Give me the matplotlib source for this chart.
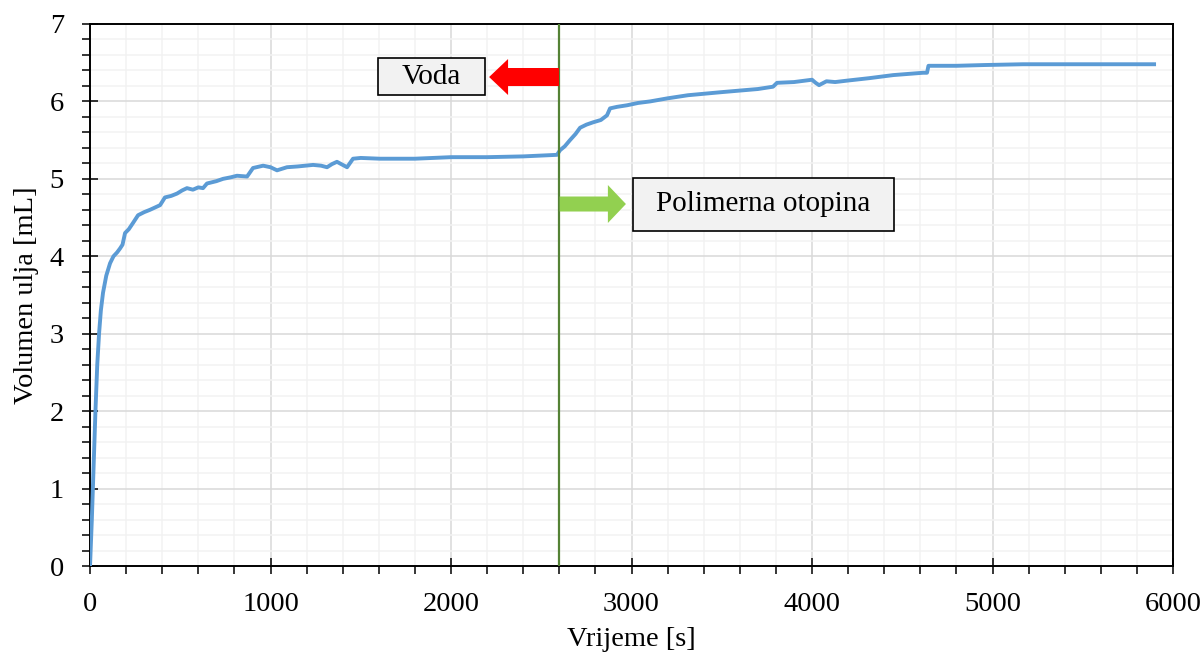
import matplotlib
matplotlib.use('Agg')
import matplotlib.pyplot as plt
from matplotlib.patches import Rectangle, FancyArrow
from matplotlib.ticker import MultipleLocator

plt.rcParams['font.family'] = ['Liberation Serif', 'DejaVu Serif']

# ocitano s grafa
vrijeme = [0, 10, 20, 30, 40, 50, 60, 72, 90, 111, 130, 150, 166, 180, 194, 215, 238, 266,
           300, 332, 360, 388, 415, 450, 482, 510, 537, 570, 600, 626, 648, 700, 737, 780,
           814, 870, 903, 959, 1000, 1036, 1091, 1150, 1236, 1280, 1313, 1340, 1368, 1400,
           1424, 1457, 1500, 1607, 1800, 2000, 2200, 2400, 2587, 2604, 2630, 2659, 2690,
           2715, 2750, 2787, 2830, 2864, 2881, 2920, 2975, 3036, 3103, 3200, 3313, 3500,
           3700, 3784, 3806, 3900, 4000, 4020, 4039, 4080, 4128, 4200, 4316, 4450, 4615,
           4637, 4645, 4800, 4958, 5169, 5500, 5895]
volumen = [0, 0.6, 1.3, 2.0, 2.6, 3.0, 3.3, 3.53, 3.75, 3.91, 4.0, 4.05, 4.1, 4.15, 4.3, 4.35,
           4.43, 4.53, 4.57, 4.6, 4.63, 4.66, 4.76, 4.78, 4.81, 4.85, 4.88, 4.86, 4.89, 4.88,
           4.94, 4.97, 5.0, 5.02, 5.04, 5.03, 5.14, 5.17, 5.15, 5.11, 5.15, 5.16, 5.18, 5.17,
           5.15, 5.19, 5.22, 5.18, 5.15, 5.26, 5.27, 5.26, 5.26, 5.28, 5.28, 5.29, 5.31, 5.37,
           5.42, 5.50, 5.58, 5.66, 5.70, 5.73, 5.76, 5.82, 5.91, 5.93, 5.95, 5.98, 6.0, 6.04,
           6.08, 6.12, 6.16, 6.19, 6.24, 6.25, 6.28, 6.24, 6.21, 6.26, 6.25, 6.27, 6.30, 6.34,
           6.37, 6.37, 6.46, 6.46, 6.47, 6.48, 6.48, 6.48]

t_promjena = 2600
natpis_voda = 'Voda'
natpis_polimer = 'Polimerna otopina'

fig = plt.figure(figsize=(12.02, 6.57), dpi=100)
ax = fig.add_axes([0.0749, 0.1385, 0.901, 0.825])

ax.plot(vrijeme, volumen, color='#5B9BD5', linewidth=2.8, zorder=3)
ax.axvline(t_promjena, color='#548235', linewidth=1.6, zorder=4)

ax.set_xlim(0, 6000)
ax.set_ylim(0, 7)
ax.xaxis.set_major_locator(MultipleLocator(1000))
ax.xaxis.set_minor_locator(MultipleLocator(200))
ax.yaxis.set_major_locator(MultipleLocator(1))
ax.yaxis.set_minor_locator(MultipleLocator(0.2))

ax.grid(which='major', color='#D9D9D9', linewidth=1.1, zorder=0)
ax.grid(which='minor', color='#F2F2F2', linewidth=1.1, zorder=0)
ax.set_axisbelow(True)

ax.tick_params(which='major', direction='inout', length=11.5, width=1.1, labelsize=20.5)
ax.tick_params(axis='x', which='major', pad=13)
ax.tick_params(axis='y', which='major', pad=13)
ax.tick_params(which='minor', direction='out', length=5.5, width=1.1)
for s in ax.spines.values():
    s.set_linewidth(1.4)
    s.set_color('black')

ax.set_xlabel('Vrijeme [s]', fontsize=20.5, labelpad=7)
ax.set_ylabel('Volumen ulja [mL]', fontsize=20.5, labelpad=8)

# kucice s natpisima
ax.add_patch(Rectangle((1595, 6.083), 593, 0.478, facecolor='#F2F2F2', edgecolor='black',
                       linewidth=1.2, zorder=5))
ax.text(1892, 6.32, natpis_voda, ha='center', va='center', fontsize=21, zorder=6)
ax.add_patch(Rectangle((3008, 4.327), 1446, 0.684, facecolor='#F2F2F2', edgecolor='black',
                       linewidth=1.2, zorder=5))
ax.text(3731, 4.67, natpis_polimer, ha='center', va='center', fontsize=21, zorder=6)

# strelice
ax.add_patch(FancyArrow(2598, 6.315, -387, 0, width=0.233, head_width=0.465, head_length=105,
                        length_includes_head=True, color='#FF0000', linewidth=0, zorder=5))
ax.add_patch(FancyArrow(2602, 4.675, 367, 0, width=0.194, head_width=0.49, head_length=100,
                        length_includes_head=True, color='#92D050', linewidth=0, zorder=5))

fig.savefig('out.png', dpi=100)
